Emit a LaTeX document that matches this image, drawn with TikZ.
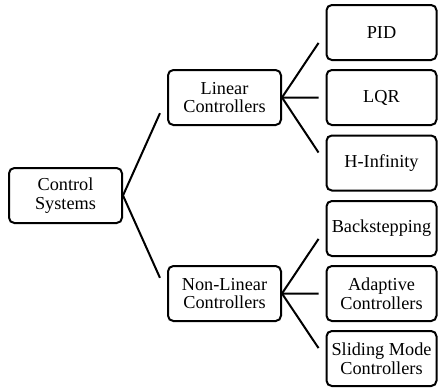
\documentclass[tikz,border=0pt]{standalone}
\usepackage{fontspec}
\setmainfont{Liberation Serif}
\usetikzlibrary{calc}

\begin{document}
\begin{tikzpicture}[x=0.75pt, y=-0.75pt,
        box/.style={draw, line width=1.5pt, rounded corners=4pt, align=center,
            inner sep=1pt, font=\fontsize{13.7}{14}\selectfont},
        wide/.style={box, minimum width=84.75pt, minimum height=41.25pt},
        leaf/.style={box, minimum width=82.5pt, minimum height=41.25pt},
        link/.style={line width=1.5pt}]
            \useasboundingbox (0,0) rectangle (438,387);
            % root and the two families
            \node[wide] (cs) at (65.5, 195.5) {Control\\Systems};
            \node[wide] (lin) at (224.5, 97.5) {Linear\\Controllers};
            \node[wide] (nonlin) at (224.5, 293.5) {Non-Linear\\Controllers};
            % leaves
            \node[leaf] (pid) at (381.5, 32.5) {PID};
            \node[leaf] (lqr) at (381.5, 97.5) {LQR};
            \node[leaf] (hinf) at (381.5, 163) {H-Infinity};
            \node[leaf] (back) at (381.5, 228.5) {Backstepping};
            \node[leaf] (adapt) at (381.5, 293.5) {Adaptive\\Controllers};
            \node[leaf] (slide) at (381.5, 358.5) {Sliding Mode\\Controllers};
            \foreach \p/\c in {cs/lin, cs/nonlin, lin/pid, lin/lqr, lin/hinf,
                    nonlin/back, nonlin/adapt, nonlin/slide}
                \draw[link] (\p.east) -- ($(\p.east)!0.84!(\c.west)$);
        \end{tikzpicture}
\end{document}
